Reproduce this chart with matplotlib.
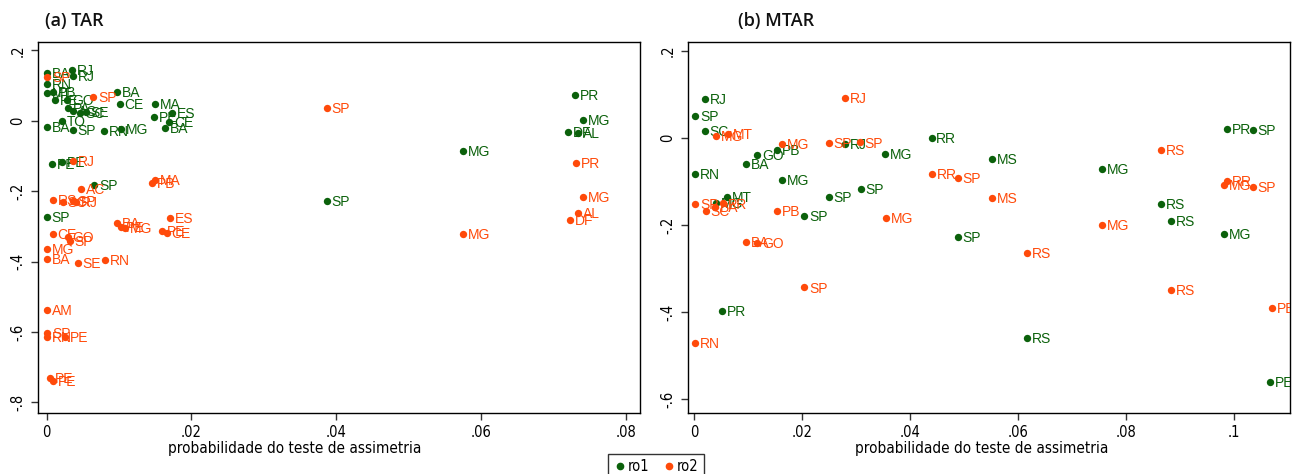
import matplotlib
matplotlib.use("Agg")
import matplotlib.pyplot as plt
from matplotlib.lines import Line2D

# ---- data ----
# (a) TAR
tar_ro1_x = [0.0035, 0.0037, 0.0001, 0.0001, 0.0001, 0.0008, 0.0011, 0.0028, 0.0029, 0.0037,
             0.0046, 0.0054, 0.0021, 0.0001, 0.0036, 0.0079, 0.0102, 0.0097, 0.0101, 0.0149,
             0.0148, 0.0173, 0.0169, 0.0163, 0.0730, 0.0741, 0.0720, 0.0734, 0.0575, 0.0387,
             0.0007, 0.0021, 0.0066, 0.0000]
tar_ro1_y = [0.145, 0.128, 0.136, 0.105, 0.080, 0.082, 0.060, 0.060, 0.037, 0.028,
             0.023, 0.026, 0.000, -0.017, -0.026, -0.028, -0.023, 0.082, 0.048, 0.048,
             0.011, 0.023, -0.003, -0.020, 0.074, 0.003, -0.031, -0.034, -0.085, -0.227,
             -0.122, -0.116, -0.182, -0.273]
tar_ro1_lab = ["RJ", "RJ", "BA", "RN", "MT", "PB", "PE", "GO", "PA", "AC",
               "SC", "SE", "TO", "BA", "SP", "RN", "MG", "BA", "CE", "MA",
               "PE", "ES", "CE", "BA", "PR", "MG", "DF", "AL", "MG", "SP",
               "PE", "PE", "SP", "SP"]

tar_ro2_x = [0.0001, 0.0064, 0.0387, 0.0732, 0.0741, 0.0734, 0.0723, 0.0575, 0.0036, 0.0149,
             0.0146, 0.0048, 0.0008, 0.0022, 0.0036, 0.0041, 0.0171, 0.0097, 0.0102, 0.0108,
             0.0160, 0.0166, 0.0008, 0.0029, 0.0032, 0.0001, 0.0001, 0.0043, 0.0080, 0.0000,
             0.0001, 0.0001, 0.0025, 0.0004, 0.0008]
tar_ro2_y = [0.125, 0.068, 0.037, -0.119, -0.216, -0.261, -0.281, -0.321, -0.114, -0.168,
             -0.176, -0.193, -0.224, -0.230, -0.227, -0.230, -0.276, -0.290, -0.301, -0.304,
             -0.313, -0.318, -0.321, -0.330, -0.341, -0.364, -0.392, -0.403, -0.395, -0.537,
             -0.602, -0.614, -0.614, -0.730, -0.739]
tar_ro2_lab = ["SP", "SP", "SP", "PR", "MG", "AL", "DF", "MG", "RJ", "MA",
               "PB", "AC", "RS", "SC", "SP", "RJ", "ES", "BA", "PE", "MG",
               "PE", "CE", "CE", "GO", "SP", "MG", "BA", "SE", "RN", "AM",
               "SP", "RN", "PE", "PE", "PE"]

# (b) MTAR
mtar_ro1_x = [0.0020, 0.0002, 0.0020, 0.0002, 0.0096, 0.0117, 0.0154, 0.0163, 0.0061, 0.0041,
              0.0052, 0.0250, 0.0309, 0.0204, 0.0280, 0.0354, 0.0440, 0.0552, 0.0489, 0.0617,
              0.0756, 0.0865, 0.0883, 0.0981, 0.0987, 0.1035, 0.1067]
mtar_ro1_y = [0.090, 0.051, 0.016, -0.083, -0.060, -0.039, -0.028, -0.097, -0.136, -0.149,
              -0.398, -0.136, -0.117, -0.179, -0.014, -0.037, 0.000, -0.048, -0.228, -0.460,
              -0.071, -0.152, -0.191, -0.221, 0.021, 0.018, -0.561]
mtar_ro1_lab = ["RJ", "SP", "SC", "RN", "BA", "GO", "PB", "MG", "MT", "MG",
                "PR", "SP", "SP", "SP", "RJ", "MG", "RR", "MS", "SP", "RS",
                "MG", "RS", "RS", "MG", "PR", "SP", "PE"]

mtar_ro2_x = [0.0280, 0.0041, 0.0063, 0.0163, 0.0250, 0.0307, 0.0002, 0.0022, 0.0039, 0.0054,
              0.0154, 0.0096, 0.0117, 0.0204, 0.0002, 0.0356, 0.0441, 0.0489, 0.0552, 0.0617,
              0.0756, 0.0865, 0.0987, 0.0981, 0.1035, 0.0883, 0.1070]
mtar_ro2_y = [0.092, 0.005, 0.009, -0.014, -0.011, -0.010, -0.152, -0.168, -0.159, -0.150,
              -0.168, -0.239, -0.241, -0.343, -0.471, -0.184, -0.083, -0.092, -0.138, -0.264,
              -0.200, -0.028, -0.099, -0.108, -0.113, -0.349, -0.391]
mtar_ro2_lab = ["RJ", "MG", "MT", "MG", "SP", "SP", "SP", "SC", "BA", "PR",
                "PB", "BA", "GO", "SP", "RN", "MG", "RR", "SP", "MS", "RS",
                "MG", "RS", "RR", "MG", "SP", "RS", "PE"]

GREEN = "#0b610b"
ORANGE = "#ff4a0a"
NARROW = dict(family=["DejaVu Sans"], fontstretch="condensed")

fig = plt.figure(figsize=(12.94, 4.74), dpi=100)
ax1 = fig.add_axes([0.0294, 0.1287, 0.4652, 0.7827])
ax2 = fig.add_axes([0.5317, 0.1287, 0.4652, 0.7827])


def draw(ax, series, xlim, ylim, xt, xtl, yt, ytl, xlab_pos):
    for xs, ys, labs, col in series:
        ax.scatter(xs, ys, s=28, color=col, zorder=3, clip_on=True, linewidths=0)
        for x, y, t in zip(xs, ys, labs):
            ax.annotate(t, (x, y), xytext=(3.5, -1), textcoords="offset points",
                        ha="left", va="center", fontsize=10, color=col,
                        family=["Liberation Sans", "DejaVu Sans"],
                        annotation_clip=True, clip_on=True)
    ax.set_xlim(*xlim)
    ax.set_ylim(*ylim)
    ax.set_xticks(xt)
    ax.set_xticklabels(xtl, fontsize=10.5, **NARROW)
    ax.set_yticks(yt)
    ax.set_yticklabels(ytl, fontsize=10.5, rotation=90, va="center", **NARROW)
    ax.tick_params(direction="out", length=5, width=1, color="#333333", pad=4)
    for sp in ax.spines.values():
        sp.set_color("black")
        sp.set_linewidth(1.0)
    ax.set_xlabel("probabilidade do teste de assimetria", fontsize=11,
                  labelpad=1, **NARROW)
    ax.xaxis.set_label_coords(xlab_pos, -0.075)


draw(ax1, [(tar_ro1_x, tar_ro1_y, tar_ro1_lab, GREEN),
           (tar_ro2_x, tar_ro2_y, tar_ro2_lab, ORANGE)],
     (-0.0012, 0.082), (-0.83, 0.224),
     [0, 0.02, 0.04, 0.06, 0.08], ["0", ".02", ".04", ".06", ".08"],
     [0.2, 0, -0.2, -0.4, -0.6, -0.8], [".2", "0", "-.2", "-.4", "-.6", "-.8"], 0.427)

draw(ax2, [(mtar_ro1_x, mtar_ro1_y, mtar_ro1_lab, GREEN),
           (mtar_ro2_x, mtar_ro2_y, mtar_ro2_lab, ORANGE)],
     (-0.0011, 0.1104), (-0.632, 0.22),
     [0, 0.02, 0.04, 0.06, 0.08, 0.1], ["0", ".02", ".04", ".06", ".08", ".1"],
     [0.2, 0, -0.2, -0.4, -0.6], [".2", "0", "-.2", "-.4", "-.6"], 0.488)

fig.text(0.035, 0.955, "(a) TAR", fontsize=13, fontweight="semibold",
         family=["Open Sans", "DejaVu Sans"], va="center", color="#111111")
fig.text(0.570, 0.955, "(b) MTAR", fontsize=13, fontweight="semibold",
         family=["Open Sans", "DejaVu Sans"], va="center", color="#111111")

handles = [Line2D([], [], ls="", marker="o", ms=4.5, color=GREEN),
           Line2D([], [], ls="", marker="o", ms=4.5, color=ORANGE)]
leg = fig.legend(handles, ["ro1", "ro2"], loc="upper center", bbox_to_anchor=(0.507, 0.058),
                 ncol=2, frameon=True, fancybox=False, edgecolor="black",
                 prop={"family": "DejaVu Sans", "stretch": "condensed", "size": 10.5},
                 handletextpad=0.1, columnspacing=0.9, handlelength=0.9,
                 borderpad=0.35)
leg.get_frame().set_linewidth(1.0)

fig.savefig("out.png", dpi=100)
